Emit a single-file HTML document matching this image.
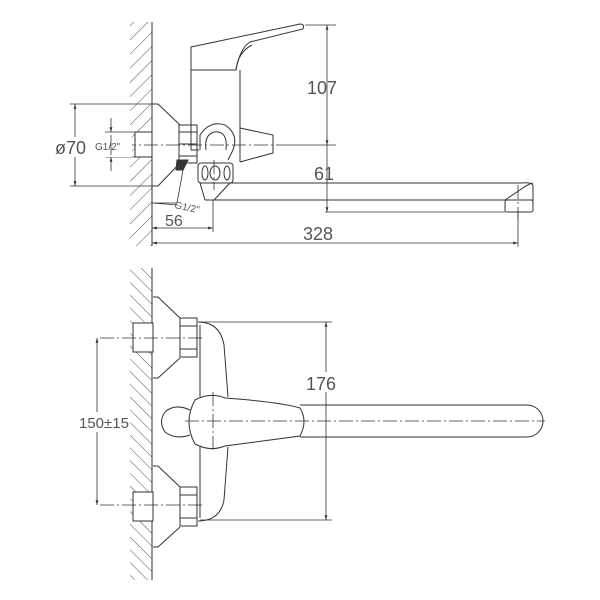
<!DOCTYPE html>
<html><head><meta charset="utf-8"><style>
html,body{margin:0;padding:0;background:#fff}
svg{display:block}
text{font-family:"Liberation Sans",sans-serif;fill:#555}
</style></head><body>
<svg width="600" height="600" viewBox="0 0 600 600" xmlns="http://www.w3.org/2000/svg">
<defs>
<pattern id="h1" width="10" height="10" patternUnits="userSpaceOnUse" patternTransform="rotate(45)">
<line x1="0" y1="0" x2="0" y2="10" stroke="#555" stroke-width="1"/></pattern>
<pattern id="h2" width="9" height="9" patternUnits="userSpaceOnUse" patternTransform="rotate(-45)">
<line x1="0" y1="0" x2="0" y2="9" stroke="#555" stroke-width="1"/></pattern>
<marker id="a" viewBox="0 0 10 10" refX="10" refY="5" markerWidth="6" markerHeight="6" orient="auto-start-reverse">
<path d="M0,2 L10,5 L0,8 z" fill="#333"/></marker>
</defs>
<g fill="none" stroke="#333" stroke-width="1">
<rect x="130" y="22" width="22" height="224" fill="url(#h1)" stroke="none"/>
<line x1="152" y1="22" x2="152" y2="246"/>
<rect x="135" y="132" width="17" height="25" fill="#fff"/>
<path d="M152,104 L158,104 L180,125 M152,186 L158,186 L180,163"/>
<rect x="179" y="125" width="18" height="38" fill="#fff"/>
<path d="M179,132 L197,132 M179,156 L197,156 M179,144 L197,144"/>
<path d="M177,160 L188,160 L183,170 L176,170 z" fill="#333"/>
<path d="M191,70 L191,150 M240,70 L240,162 M191,150 L199,150"/>
<path d="M191,47 L300,24 Q305,24 303,29 L250,42 Q240,48 236,70 L191,70 z" fill="#fff"/>
<path d="M236,70 Q238,52 252,45"/>
<path d="M200,150 L200,135 Q210,120 225,125 Q240,135 232,152 L228,160 M206,150 Q204,135 214,132 Q228,130 226,150"/>
<path d="M240,128 L273,135 L273,153 L240,162"/>
<rect x="198" y="163" width="35" height="20" rx="3" fill="#fff"/>
<ellipse cx="205" cy="173" rx="3" ry="7"/><ellipse cx="215" cy="173" rx="5" ry="7"/><ellipse cx="227" cy="173" rx="3" ry="7"/>
<path d="M200,183 L205,200 M230,183 L214,200"/>
<path d="M212,183 L521,183 Q533,182 533,186 L533,200 L520,200 M205,200 L505,200 L520,190 Q528,184 533,183"/>
<rect x="505" y="200" width="28" height="12" rx="2" fill="#fff"/>
<g stroke-dasharray="14,3,2,3" stroke-width="0.8">
<line x1="100" y1="145" x2="290" y2="145"/>
<line x1="518" y1="185" x2="518" y2="222"/>
<line x1="214" y1="160" x2="214" y2="190"/>
</g>
<g stroke-width="0.8">
<line x1="305" y1="25" x2="336" y2="25"/>
<line x1="290" y1="145" x2="336" y2="145"/>
<line x1="327" y1="25" x2="327" y2="145" marker-start="url(#a)" marker-end="url(#a)"/>
<line x1="327" y1="145" x2="327" y2="212" marker-end="url(#a)"/>
<line x1="325" y1="212" x2="505" y2="212"/>
<line x1="70" y1="104" x2="152" y2="104"/>
<line x1="70" y1="186" x2="152" y2="186"/>
<line x1="75" y1="104" x2="75" y2="186" marker-start="url(#a)" marker-end="url(#a)"/>
<line x1="105" y1="132" x2="135" y2="132"/>
<line x1="105" y1="157" x2="135" y2="157"/>
<line x1="111" y1="118" x2="111" y2="132" marker-end="url(#a)"/>
<line x1="111" y1="171" x2="111" y2="157" marker-end="url(#a)"/>
<line x1="213" y1="200" x2="213" y2="232"/>
<line x1="152" y1="228" x2="213" y2="228" marker-start="url(#a)" marker-end="url(#a)"/>
<line x1="518" y1="212" x2="518" y2="247"/>
<line x1="152" y1="243" x2="518" y2="243" marker-start="url(#a)" marker-end="url(#a)"/>
<path d="M183,170 L177,203 L152,203 M152,203 L178,205"/>
</g>
<rect x="130" y="268" width="22" height="312" fill="url(#h2)" stroke="none"/>
<line x1="152" y1="268" x2="152" y2="580"/>
<g id="fit">
<rect x="133" y="323" width="20" height="29" fill="#fff"/>
<path d="M153,297 L158,297 L180,318 M153,378 L158,378 L180,358"/>
<rect x="180" y="318" width="17" height="39" fill="#fff"/>
<path d="M180,326 L197,326 M180,349 L197,349"/>
</g>
<use href="#fit" transform="translate(0,169)"/>
<path d="M198,322 Q220,322 224,345 L228,397 M228,447 L224,500 Q220,521 198,521"/>
<path d="M200,325 L200,397 M200,447 L200,518"/>
<path d="M190,410 Q175,403 165,412 Q158,422 165,432 Q175,440 190,435"/>
<path d="M195,400 Q210,392 225,398 Q280,402 300,408 Q308,421 300,436 Q270,440 225,446 Q210,452 195,444 Q183,422 195,400 z" fill="#fff"/>
<path d="M300,405 L527,405 A16,16 0 0 1 527,437 L300,437"/>
<g stroke-dasharray="14,3,2,3" stroke-width="0.8">
<line x1="100" y1="338" x2="205" y2="338"/>
<line x1="100" y1="505" x2="205" y2="505"/>
<line x1="185" y1="421" x2="545" y2="421"/>
<line x1="213" y1="392" x2="213" y2="450"/>
</g>
<g stroke-width="0.8">
<line x1="200" y1="322" x2="332" y2="322"/>
<line x1="200" y1="520" x2="332" y2="520"/>
<line x1="326" y1="322" x2="326" y2="520" marker-start="url(#a)" marker-end="url(#a)"/>
<line x1="97" y1="338" x2="97" y2="505" marker-start="url(#a)" marker-end="url(#a)"/>
</g>
</g>
<rect x="300" y="372" width="48" height="20" fill="#fff"/>
<rect x="78" y="412" width="50" height="20" fill="#fff"/>
<rect x="52" y="137" width="80" height="20" fill="#fff"/>
<line x1="111" y1="135" x2="111" y2="155" stroke="#333" stroke-width="0.8"/>
<g>
<text x="307" y="94" font-size="18">107</text>
<text x="314" y="180" font-size="18">61</text>
<text x="55" y="154" font-size="18">ø70</text>
<text x="95" y="150" font-size="10">G1/2"</text>
<text x="165" y="226" font-size="16">56</text>
<text x="303" y="240" font-size="18">328</text>
<text x="0" y="0" font-size="10" transform="translate(174,208) rotate(12)">G1/2"</text>
<text x="306" y="390" font-size="18">176</text>
<text x="79" y="428" font-size="15">150±15</text>
</g>
</svg>
</body></html>
